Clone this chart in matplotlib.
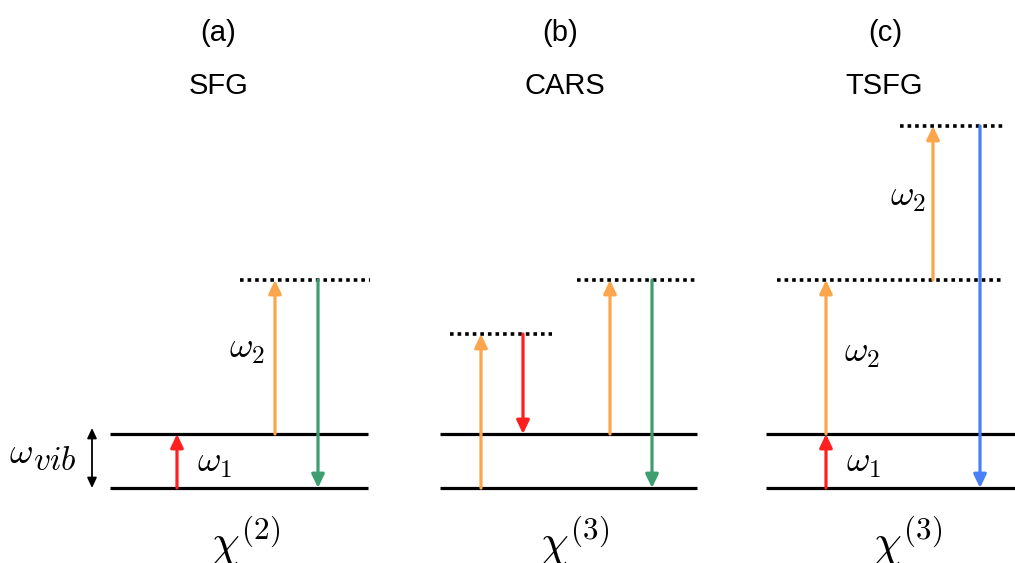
import matplotlib
matplotlib.use("Agg")
import matplotlib.pyplot as plt

plt.rcParams['mathtext.fontset'] = 'cm'
plt.rcParams['font.family'] = ['Liberation Sans', 'DejaVu Sans']

# Panel definitions
panel_tags = ["(a)", "(b)", "(c)"]
panel_names = ["SFG", "CARS", "TSFG"]
panel_chi = [r"$\chi^{(2)}$", r"$\chi^{(3)}$", r"$\chi^{(3)}$"]
tag_x = [218, 560, 885]
name_x = [219, 565, 884]
chi_x = [246, 575, 908]

# energy levels (y measured from the top of the picture)
ground_y = 488
vib_y = 434
# solid level lines: (x_start, x_end)
solid_levels = [(110, 368), (440, 697), (766, 1015)]
# dotted virtual levels: (x_start, x_end, y)
virtual_levels = [(240, 370, 280), (450, 552, 334), (577, 697, 280),
                  (777, 1003, 280), (900, 1003, 126)]
# arrows: (x, y_from, y_to, colour)
ORANGE, RED, GREEN, BLUE = '#FBA64C', '#FF1F1F', '#3F9E70', '#4A80F5'
arrows = [
    (177, 488, 434, RED), (275, 434, 280, ORANGE), (318, 280, 488, GREEN),
    (481, 488, 334, ORANGE), (523, 334, 434, RED), (610, 434, 280, ORANGE),
    (652, 280, 488, GREEN),
    (826, 488, 434, RED), (826, 434, 280, ORANGE), (933, 280, 126, ORANGE),
    (980, 126, 488, BLUE),
]
# frequency labels: (x, y, text)
freq_labels = [
    (215, 463, r"$\omega_1$"), (247, 349, r"$\omega_2$"),
    (862, 352, r"$\omega_2$"), (908, 197, r"$\omega_2$"),
    (864, 462, r"$\omega_1$"),
]

fig = plt.figure(figsize=(10.15, 5.63), dpi=100)
ax = fig.add_axes([0, 0, 1, 1])
ax.set_xlim(0, 1015)
ax.set_ylim(563, 0)
ax.axis('off')

for x0, x1 in solid_levels:
    ax.plot([x0, x1], [ground_y, ground_y], color='black', lw=2.3, solid_capstyle='butt')
    ax.plot([x0, x1], [vib_y, vib_y], color='black', lw=2.3, solid_capstyle='butt')

for x0, x1, y in virtual_levels:
    ax.plot([x0, x1], [y, y], color='black', lw=2.6, linestyle=(0, (1, 1.1)),
            dash_capstyle='butt')

for x, y0, y1, c in arrows:
    ax.annotate('', xy=(x, y1), xytext=(x, y0),
                arrowprops=dict(arrowstyle='-|>,head_length=0.8,head_width=0.38',
                                color=c, lw=2.3, shrinkA=0, shrinkB=0))

# omega_vib double arrow
ax.annotate('', xy=(92, 428), xytext=(92, 488),
            arrowprops=dict(arrowstyle='<|-|>,head_length=0.6,head_width=0.28',
                            color='black', lw=1.3, shrinkA=0, shrinkB=0))
ax.text(21, 463, r"$\omega$", fontsize=26, ha='center', va='baseline')
ax.text(33, 470, r"$vib$", fontsize=24, ha='left', va='baseline')

for x, y, t in freq_labels:
    ax.text(x, y, t, fontsize=26, ha='center', va='center')

for tag, name, chi, tx, nx, cx in zip(panel_tags, panel_names, panel_chi, tag_x, name_x, chi_x):
    ax.text(tx, 33, tag, fontsize=21, ha='center', va='center')
    ax.text(nx, 86, name, fontsize=21, ha='center', va='center')
    ax.text(cx, 556, chi, fontsize=32, ha='center', va='baseline')

fig.savefig('out.png', dpi=100)
